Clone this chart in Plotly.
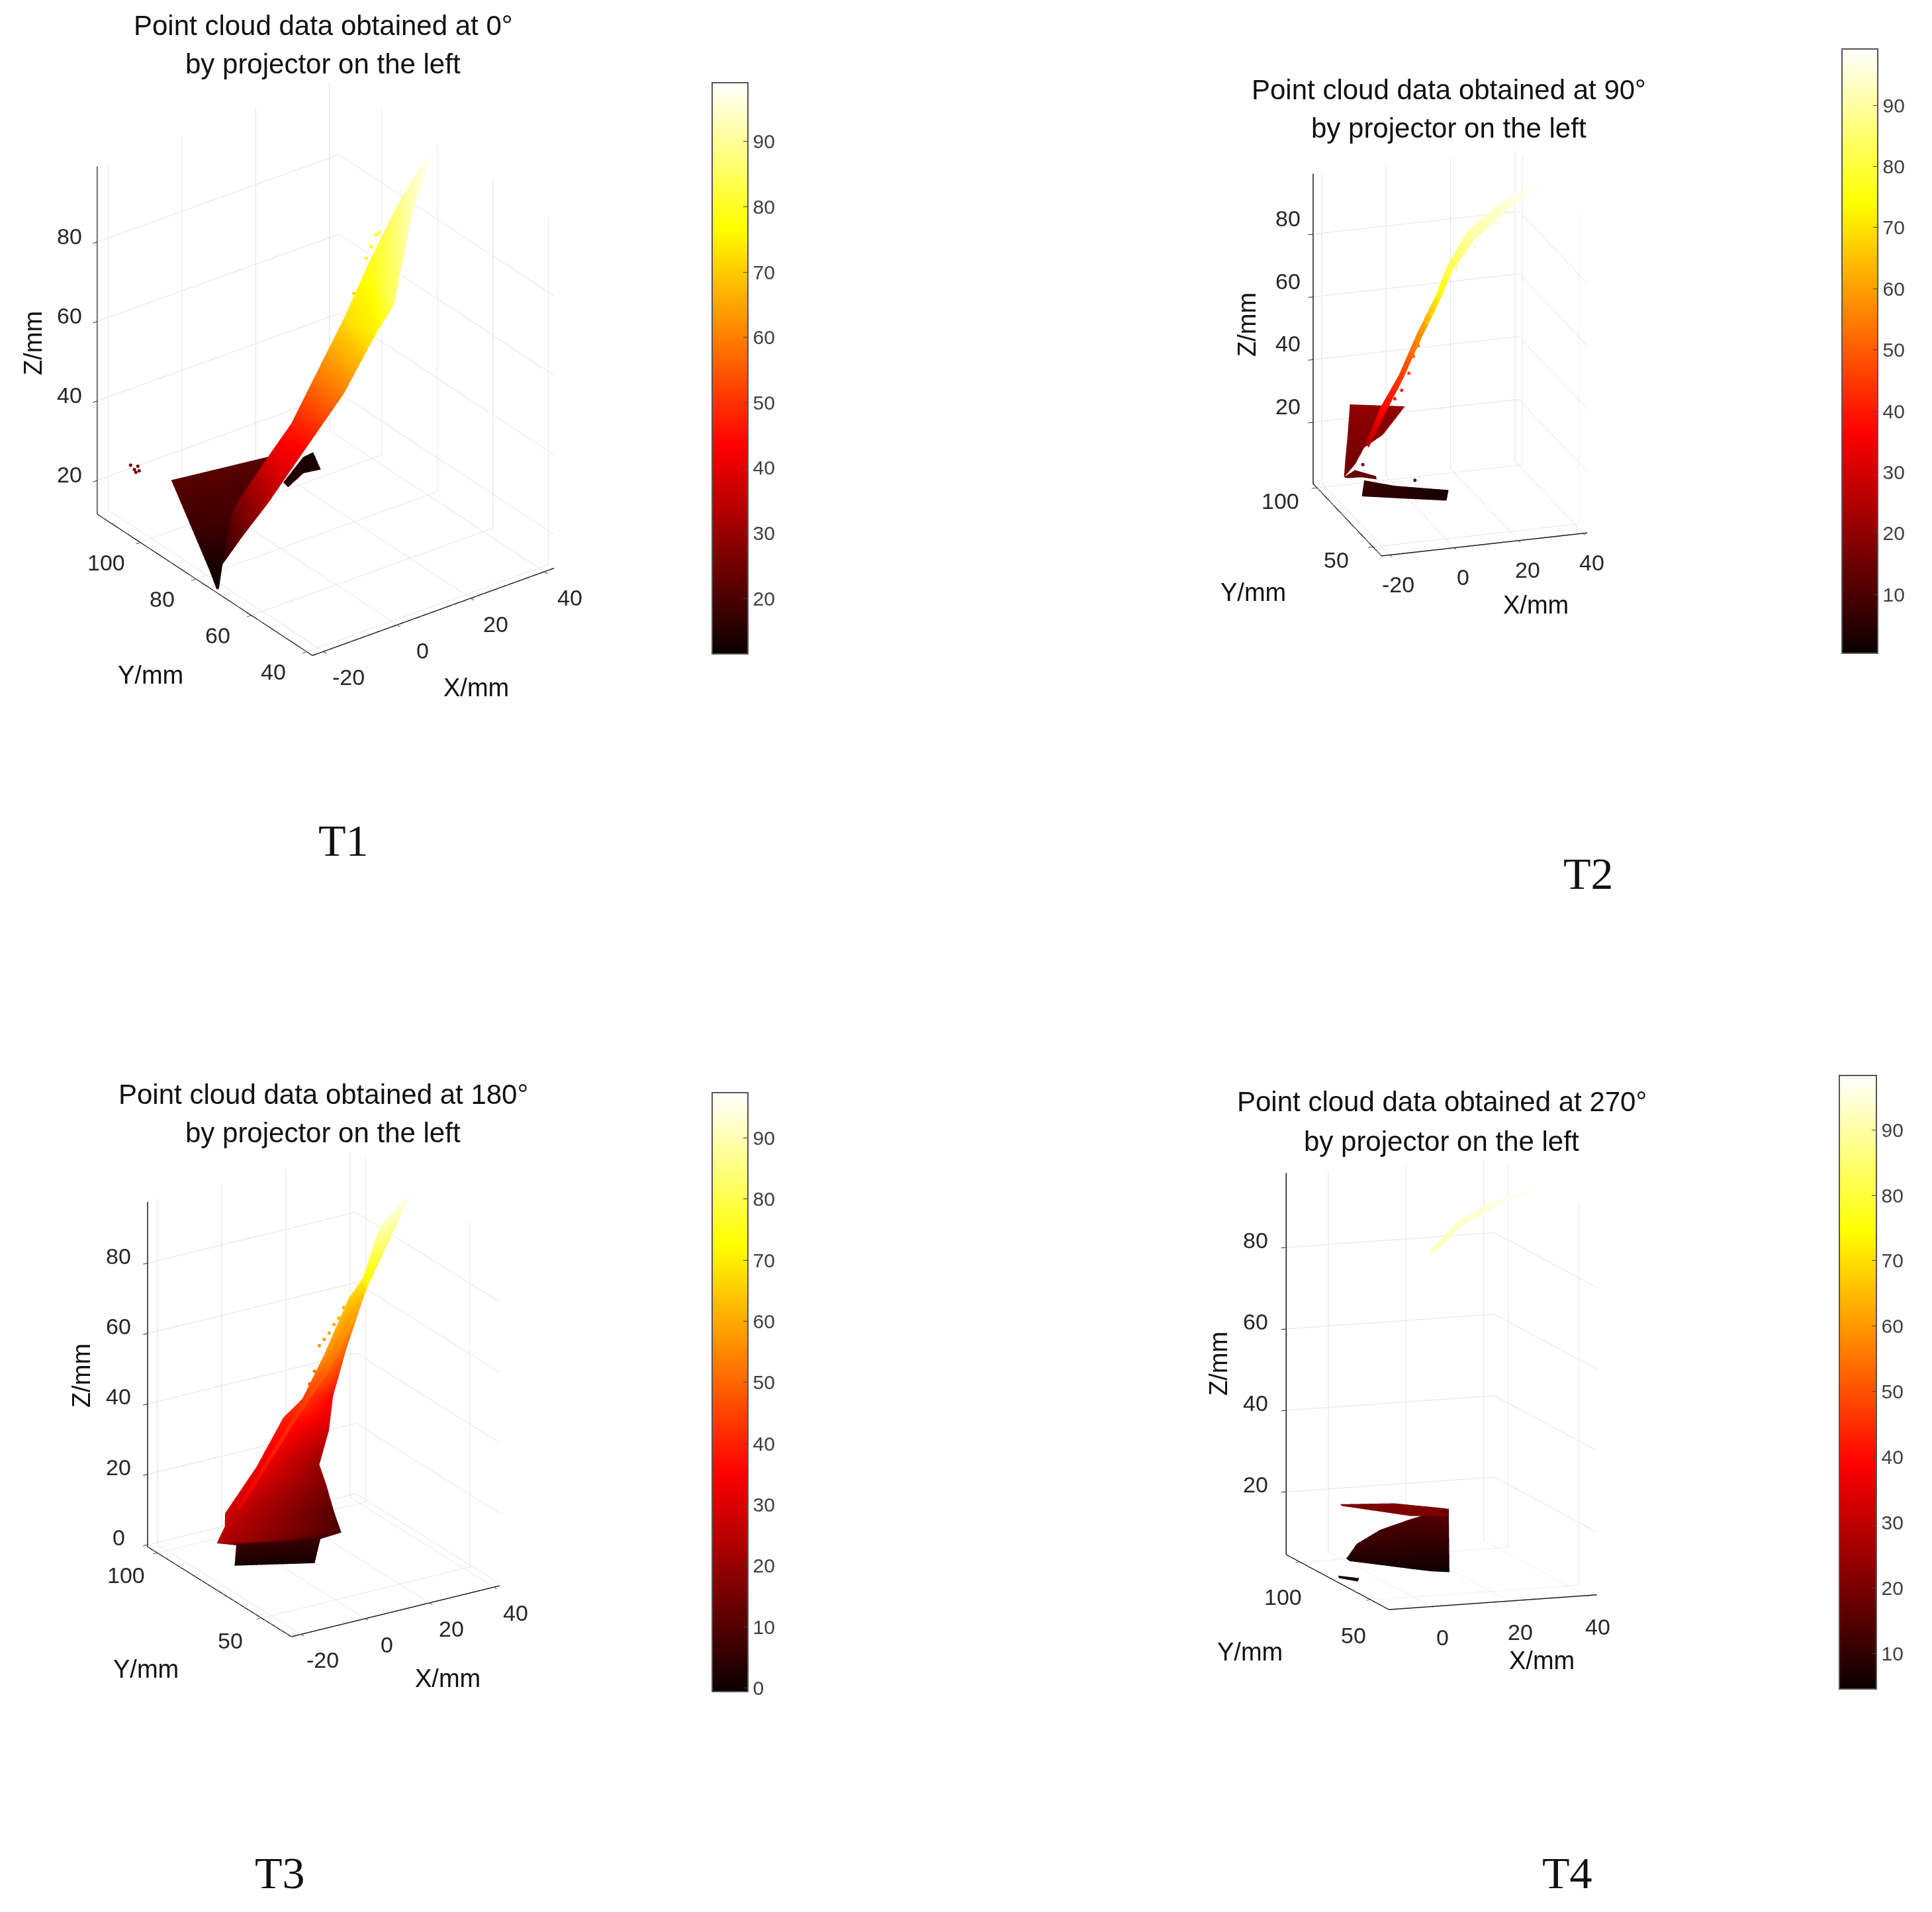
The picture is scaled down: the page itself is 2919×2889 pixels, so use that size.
import plotly.graph_objects as go

W, H = 2919, 2889
HOT = [[0, 'rgb(10,0,0)'], [0.365, 'rgb(255,0,0)'], [0.746, 'rgb(255,255,0)'], [1, 'rgb(255,255,255)']]

# ---- T1 ----
t1a_x = [-12.1, 11.1, -17.3, -2.6, -20.1, -17.1, -22.2, -21.8]
t1a_y = [103.3, 99.2, 88.9, 86.6, 78.8, 78.2, 73.6, 73.3]
t1a_z = [22, 22, 18, 20, 13, 14, 11.6, 11.6]
t1b_x = [-11.1, -19.2, -9.7, -16.7, -5.9, -13.1, -2.7, -3.8, 1.4, 0.9, 8.1, 6.9, 21.1, 6.9, 32.0, 25.2, 39.8, 38.8]
t1b_y = [83.4, 75.4, 80.8, 71.5, 76.7, 67.2, 72.7, 66.8, 70.1, 58.4, 68.0, 54.6, 76.2, 48.3, 79.8, 66.2, 79.2, 77.4]
t1b_z = [22, 16, 28, 24, 38, 33, 47, 43, 58, 60, 72, 75, 78, 85, 88, 93, 98, 98]
t1c_x = [14.3, 13.9, 25.7, 21.4, 28.7, 25.4]
t1c_y = [98.0, 95.7, 105.9, 100.1, 106.3, 99.2]
t1c_z = [15, 15, 14, 14, 14, 14]
t1p_x = [-18.4, -18.9, -17.4, -18.4, -19.4, 28.0, 29.9, 25.1, 16.7, 28.9]
t1p_y = [109.6, 107.6, 108.3, 106.5, 106.4, 84.5, 85.2, 82.4, 75.8, 82.8]
t1p_z = [25, 25, 25, 25, 25, 76, 78, 75, 72, 80]

# ---- T2 ----
t2a_x = [-11.7, 5.4, -15.2, -5.5, -20.6, -12.5, -22.4, -18.8]
t2a_y = [102, 102, 94.1, 90.3, 80.4, 86.9, 76.5, 77.1]
t2a_z = [25, 22.4, 18, 19, 17, 17, 12.6, 16]
t2a_c = [20, 20, 18, 19, 17, 17, 15, 16]
t2b_x = [-22.4, -22.4, -18.6, -18.6, -14.3, -14.9]
t2b_y = [76.6, 73.4, 77.7, 71.6, 71.4, 68.7]
t2b_z = [12.6, 13.5, 14, 14, 14, 14]
t2b_c = [14, 14, 14, 14, 14, 14]
t2c_x = [-13.7, -17.8, -4.1, -4.9, 12.4, 9.0]
t2c_y = [83.5, 73.8, 83.9, 73.3, 83.2, 75.3]
t2c_z = [8, 7, 5, 5, 2, 2]
t2d_x = [-17.7, -17.9, -13.9, -13.4, -7.0, -7.0, -0.5, -0.3, 2.5, 2.6, 5.2, 4.8, 13.2, 12.9, 24.7, 25.9, 40.4, 40.2]
t2d_y = [70.9, 67.3, 68.4, 64.7, 72.0, 68.4, 74.1, 70.5, 65.8, 62.1, 63.5, 58.3, 68.6, 61.5, 74.5, 69.4, 79.6, 77.8]
t2d_z = [25, 25, 37, 37, 45, 45, 57, 57, 72, 72, 82, 82, 90, 90, 95, 95, 99, 99]
t2p_x = [-10.1, -7.6, -5.2, -3.6, -3.6, -2.3, -2.0, 2.1, 4.5, 5.7, 9.6, 19.1, 26.3, 32.8, -17.4, -5.3]
t2p_y = [66.5, 67.6, 68.0, 68.6, 64.3, 59.8, 56.3, 59.7, 54.0, 51.1, 51.8, 58.1, 62.2, 68.3, 74.1, 62.4]
t2p_z = [40, 42, 47, 52, 57, 66, 70, 75, 85, 90, 92, 96, 97, 98, 17, 15]

# ---- T3 ----
t3a_x = [-12.3, 6.5, -12.2, 8.9, -22, 10.8, -20.5, 15.5, -19.7, 16.7, -4.8, 18.9, 8.6, 23.1, 13.4, 26.1, 12.9, 28.1, 27.9, 35.0, 30.0, 30.5, 29.3, 35.3, 40.4, 40.2]
t3a_y = [79.4, 70.0, 78.8, 70.9, 73, 63.8, 71.4, 74.6, 72.6, 80.0, 80.5, 86.9, 88.4, 88.8, 86.6, 91.5, 75.2, 88.3, 86.9, 90.8, 83.1, 81.6, 74.0, 77.4, 76.0, 75.2]
t3a_z = [1, 1, 7, 7, 11.9, 11, 17, 12, 20, 17, 27, 20, 35, 28, 40, 36, 57, 50, 65, 62, 72, 70, 90, 85, 97, 97]
t3a_c = [1, 1, 6, 6, 24, 9, 26, 11, 28, 16, 33, 20, 40, 28, 44, 36, 57, 50, 65, 62, 72, 70, 90, 85, 97, 97]
t3b_x = [-21.8, -22, -14.2, -14.2, 4.0, 4.0, 15.6, 15.5, 29.2, 29.0]
t3b_y = [63.5, 62.0, 61.3, 59.7, 75.5, 73.8, 79.5, 77.9, 86.6, 85.1]
t3b_z = [25.6, 25.3, 38, 38, 42, 42, 50, 50, 60, 60]
t3b_c = [32, 32, 38, 38, 42, 42, 50, 50, 60, 60]
t3p_x = [14.8, 16.9, 19.0, 21.9, 24.0, 27.6, 10.3, 10.9]
t3p_y = [80.6, 81.5, 82.4, 84.5, 85.5, 88.7, 78.3, 76.9]
t3p_z = [57, 58, 59, 60, 61, 62, 48, 52]

# ---- T4 ----
t4a_x = [-0.3, 0.95, 15.6, 14.9, 27.5, 26.8, 35.0, 34.6, 42.2, 41.5]
t4a_y = [37.5, 37.6, 62.8, 57.5, 75.6, 70.2, 76.1, 73.5, 77.7, 75.7]
t4a_z = [92, 91.2, 93, 93, 94, 94, 96, 96, 97, 97]
t4a_c = [92, 92, 93, 93, 94, 94, 96, 96, 97, 97]
t4b_x = [-10.0, -8.6, -8.2, -0.6, -0.4, 6.8, 8.5, 11.0, 17.3, 14.6]
t4b_y = [69.9, 71.4, 67.4, 71.5, 72.3, 68.6, 73.4, 66.9, 72.4, 64.5]
t4b_z = [11, 10, 15, 8.5, 17, 7.5, 19, 7, 21, 7]
t4b_c = [9, 7, 11, 6.5, 13, 6, 14, 5.5, 16, 5.5]
t4c_x = [-3.8, -4.2, 7.1, 5.5, 18.5, 15.7]
t4c_y = [91.1, 89.0, 82.9, 66.6, 77.4, 68.2]
t4c_z = [20, 20, 21, 21, 20, 20]
t4d_x = [-10.4, -10.6, -6.7, -8.5]
t4d_y = [74.5, 73.5, 69.8, 66.0]
t4d_z = [6, 5.6, 6, 6]

TITLE_LINE2 = 'by projector on the left'
PANELS = [
    dict(patches=[(t1a_x, t1a_y, t1a_z, t1a_z), (t1b_x, t1b_y, t1b_z, t1b_z), (t1c_x, t1c_y, t1c_z, t1c_z)],
         pts=(t1p_x, t1p_y, t1p_z), xr=(-23, 42.6), yr=(38, 115.5), zr=(11.5, 99),
         xt=[-20, 0, 20, 40], yt=[40, 60, 80, 100], zt=[20, 40, 60, 80], cbt=[20, 30, 40, 50, 60, 70, 80, 90],
         asp=(0.967, 1.161, 1.280), eye=(-0.520, -0.701, 0.487), c=(492, 555),
         sh=dict(x=(38, 39), y=(-51, 30), z=(-42, -9)), cb=(1076, 125, 54, 863),
         title='Point cloud data obtained at 0°', tc=(488, 39, 97), zl=(50, 519), yl=(227, 1020), xl=(719, 1039), T=('T1', 519, 1270)),
    dict(patches=[(t2a_x, t2a_y, t2a_z, t2a_c), (t2b_x, t2b_y, t2b_z, t2b_c), (t2c_x, t2c_y, t2c_z, t2c_z), (t2d_x, t2d_y, t2d_z, t2d_z)],
         pts=(t2p_x, t2p_y, t2p_z), xr=(-22.6, 41.2), yr=(42.4, 103.4), zr=(0.4, 99.2),
         xt=[-20, 0, 20, 40], yt=[50, 100], zt=[20, 40, 60, 80], cbt=[10, 20, 30, 40, 50, 60, 70, 80, 90],
         asp=(0.695, 0.709, 1.061), eye=(-0.291, -0.893, 0.344), c=(2191, 534),
         sh=dict(x=(13, 44), y=(-55, 20), z=(-38, -24)), cb=(2783, 74, 54, 913),
         title='Point cloud data obtained at 90°', tc=(2189, 136, 194), zl=(1884, 491), yl=(1893, 895), xl=(2320, 914), T=('T2', 2400, 1320)),
    dict(patches=[(t3a_x, t3a_y, t3a_z, t3a_c), (t3b_x, t3b_y, t3b_z, t3b_c)],
         pts=(t3p_x, t3p_y, t3p_z), xr=(-23, 41.8), yr=(35.6, 104.7), zr=(-0.6, 97.4),
         xt=[-20, 0, 20, 40], yt=[50, 100], zt=[0, 20, 40, 60, 80], cbt=[0, 10, 20, 30, 40, 50, 60, 70, 80, 90],
         asp=(0.790, 0.871, 1.205), eye=(-0.488, -0.780, 0.391), c=(489, 2106),
         sh=dict(x=(33, 39), y=(-47, 34), z=(-44, -11)), cb=(1076, 1651, 54, 905),
         title='Point cloud data obtained at 180°', tc=(488, 1653, 1711), zl=(123, 2079), yl=(220, 2522), xl=(676, 2536), T=('T3', 423, 2830)),
    dict(patches=[(t4a_x, t4a_y, t4a_z, t4a_c), (t4b_x, t4b_y, t4b_z, t4b_c), (t4c_x, t4c_y, t4c_z, t4c_z), (t4d_x, t4d_y, t4d_z, t4d_z)],
         pts=None, xr=(-10.9, 42.7), yr=(37.3, 110), zr=(4.6, 98.3),
         xt=[0, 20, 40], yt=[50, 100], zt=[20, 40, 60, 80], cbt=[10, 20, 30, 40, 50, 60, 70, 80, 90],
         asp=(0.712, 0.964, 1.251), eye=(-0.336, -0.921, 0.195), c=(2178, 2091),
         sh=dict(x=(17, 47), y=(-26, 53), z=(-46, -11)), cb=(2779, 1625, 56, 927),
         title='Point cloud data obtained at 270°', tc=(2178, 1664, 1724), zl=(1841, 2061), yl=(1888, 2496), xl=(2329, 2509), T=('T4', 2368, 2830)),
]

R = 470
EYE_DIST = 2.0


def axis(rng, ticks):
    return dict(range=list(rng), tickvals=ticks, showticklabels=False, showbackground=False, showgrid=True,
                gridcolor='#e2e2e2', gridwidth=2, showline=True, linecolor='#1a1a1a', linewidth=3, ticks='outside',
                ticklen=8, tickcolor='#262626', tickwidth=2, title=dict(text=''), zeroline=False, showspikes=False)


def tick_note(x, y, z, text, shift):
    return dict(x=x, y=y, z=z, text=str(text), showarrow=False, xanchor='center', yanchor='middle',
                xshift=shift[0], yshift=-shift[1], font=dict(family='Liberation Sans', size=34, color='#262626'))


def note(text, x, y, size, family='Liberation Sans', angle=0):
    return dict(text=text, x=x / W, y=1 - y / H, xref='paper', yref='paper', showarrow=False, xanchor='center',
                yanchor='middle', textangle=angle, font=dict(family=family, size=size, color='#111111'))


fig = go.Figure()
notes = []
scenes = {}
for n, p in enumerate(PANELS):
    name = 'scene' if n == 0 else f'scene{n + 1}'
    xr, yr, zr = p['xr'], p['yr'], p['zr']
    cx, cy = p['c']
    labels = [tick_note(t, yr[0], zr[0], t, p['sh']['x']) for t in p['xt']]
    labels += [tick_note(xr[0], t, zr[0], t, p['sh']['y']) for t in p['yt']]
    labels += [tick_note(xr[0], yr[1], t, t, p['sh']['z']) for t in p['zt']]
    scenes[name] = dict(
        domain=dict(x=[(cx - R) / W, (cx + R) / W], y=[1 - (cy + R) / H, 1 - (cy - R) / H]),
        annotations=labels, xaxis=axis(xr, p['xt']), yaxis=axis(yr, p['yt']), zaxis=axis(zr, p['zt']),
        aspectmode='manual', aspectratio=dict(x=p['asp'][0], y=p['asp'][1], z=p['asp'][2]),
        camera=dict(eye=dict(x=EYE_DIST * p['eye'][0], y=EYE_DIST * p['eye'][1], z=EYE_DIST * p['eye'][2]),
                    up=dict(x=0, y=0, z=1), center=dict(x=0, y=0, z=0), projection=dict(type='orthographic')))
    cb = p['cb']
    for m, (x, y, z, c) in enumerate(p['patches']):
        rows = len(x) // 2
        i, j, k = [], [], []
        for t in range(rows - 1):
            i += [2 * t, 2 * t + 1]
            j += [2 * t + 1, 2 * t + 3]
            k += [2 * t + 2, 2 * t + 2]
        fig.add_trace(go.Mesh3d(
            x=x, y=y, z=z, i=i, j=j, k=k, intensity=c, colorscale=HOT, cmin=zr[0], cmax=zr[1], scene=name,
            flatshading=False, lighting=dict(ambient=1, diffuse=0, specular=0, fresnel=0, roughness=1),
            showscale=m == 0, hoverinfo='skip',
            colorbar=dict(x=cb[0] / W, xanchor='left', y=1 - cb[1] / H, yanchor='top', len=cb[3], lenmode='pixels',
                          thickness=cb[2], thicknessmode='pixels', xpad=0, ypad=0, outlinecolor='#555555',
                          outlinewidth=2, ticks='inside', ticklen=8, tickcolor='#444444', tickvals=p['cbt'],
                          tickfont=dict(family='Liberation Sans', size=30, color='#404040'))))
    if p['pts']:
        px, py, pz = p['pts']
        fig.add_trace(go.Scatter3d(x=px, y=py, z=pz, mode='markers', scene=name, hoverinfo='skip',
                                   marker=dict(size=3, color=pz, colorscale=HOT, cmin=zr[0], cmax=zr[1],
                                               showscale=False, line=dict(width=0))))
    notes += [note(p['title'], p['tc'][0], p['tc'][1], 42), note(TITLE_LINE2, p['tc'][0], p['tc'][2], 42),
              note('Z/mm', *p['zl'], 38, angle=-90), note('Y/mm', *p['yl'], 38), note('X/mm', *p['xl'], 38),
              note(p['T'][0], p['T'][1], p['T'][2], 68, family='Liberation Serif')]

fig.update_layout(width=W, height=H, margin=dict(l=0, r=0, t=0, b=0), paper_bgcolor='white', showlegend=False,
                  annotations=notes, **scenes)
fig.write_html('out.html', config={'plotGlPixelRatio': 1, 'displayModeBar': False},
               post_script="document.body.style.margin='0';")
